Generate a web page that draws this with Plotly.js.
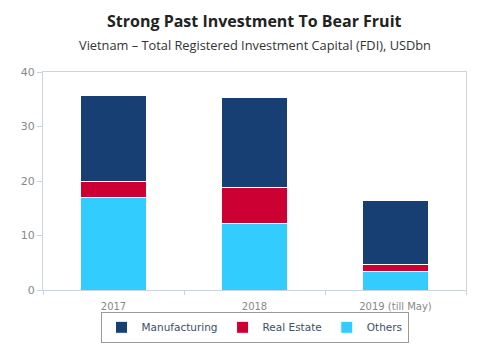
<!DOCTYPE html>
<html><head><meta charset="utf-8">
<script src="https://cdn.plot.ly/plotly-3.0.1.min.js"></script>
<style>html,body{margin:0;padding:0;background:#fff}#chart{width:490px;height:357px}</style>
</head><body><div id="chart"></div>
<script>
const categories = ["2017", "2018", "2019 (till May)"];
const others = [17.0, 12.2, 3.4];
const realEstate = [3.0, 6.6, 1.2];
const manufacturing = [15.6, 16.55, 11.9];
const yTicks = [0, 10, 20, 30, 40];

const lineStyle = {color: "#ffffff", width: 1};
const traces = [
  {type: "bar", name: "Manufacturing", x: categories, y: manufacturing, marker: {color: "#173f73", line: lineStyle}},
  {type: "bar", name: "Real Estate", x: categories, y: realEstate, marker: {color: "#cc0033", line: lineStyle}},
  {type: "bar", name: "Others", x: categories, y: others, marker: {color: "#33ccff", line: lineStyle}}
];
// stack order: Others at bottom, then Real Estate, then Manufacturing
const data = [traces[2], traces[1], traces[0]];

const layout = {
  width: 490, height: 357,
  margin: {l: 43, r: 24, t: 72, b: 67},
  barmode: "stack",
  bargap: 0.525,
  paper_bgcolor: "#fff", plot_bgcolor: "#fff",
  showlegend: true,
  legend: {
    orientation: "h", x: 0.5, xanchor: "center", y: -0.1, yanchor: "top",
    traceorder: "reversed",
    itemwidth: 30,
    bordercolor: "#999999", borderwidth: 1,
    font: {family: "DejaVu Sans", size: 10.5, color: "#3d4f66"}
  },
  xaxis: {
    type: "category", showgrid: false,
    showline: true, linecolor: "#c8d4e0", mirror: true, linewidth: 1,
    ticks: "outside", tickson: "boundaries", ticklen: 4, tickcolor: "#c8d4e0",
    ticklabelstandoff: 7,
    tickfont: {family: "DejaVu Sans", size: 10, color: "#888888"},
    fixedrange: true
  },
  yaxis: {
    range: [0, 40], tickvals: yTicks, showgrid: false, zeroline: false,
    showline: true, linecolor: "#c8d4e0", mirror: true, linewidth: 1,
    ticks: "outside", ticklen: 5, tickcolor: "#c8d4e0",
    tickfont: {family: "DejaVu Sans", size: 11, color: "#888888"}
  },
  annotations: [
    {text: "<b>Strong Past Investment To Bear Fruit</b>", xref: "paper", yref: "paper", x: 0.5, y: 1, xanchor: "center", yanchor: "middle",
     yshift: 51, showarrow: false, font: {family: "Open Sans", size: 16, color: "#222222"}},
    {text: "Vietnam – Total Registered Investment Capital (FDI), USDbn", xref: "paper", yref: "paper", x: 0.5, y: 1, xanchor: "center", yanchor: "middle",
     yshift: 27, showarrow: false, font: {family: "Open Sans", size: 12.8, color: "#333333"}}
  ]
};
Plotly.newPlot("chart", data, layout, {displayModeBar: false, staticPlot: true});
</script></body></html>
